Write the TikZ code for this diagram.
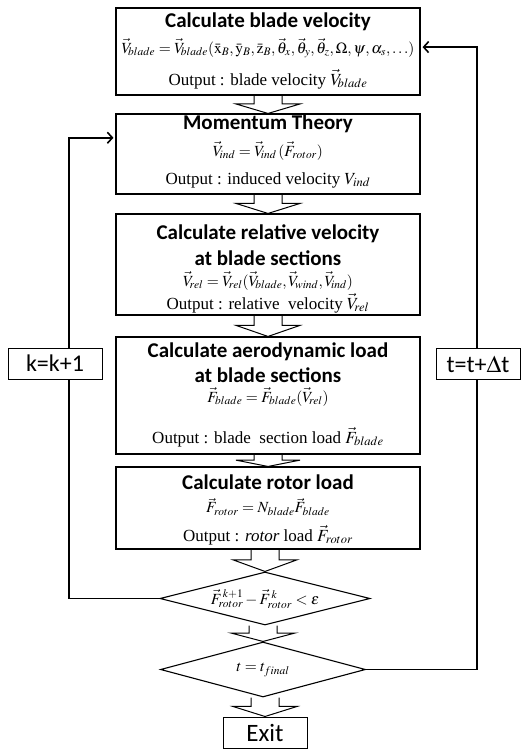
\documentclass[tikz,border=0pt]{standalone}
\usepackage{mathptmx}
\usepackage{fontspec}
\setmainfont{Liberation Serif}
\newfontfamily\ttlfont{Carlito}
\usetikzlibrary{arrows.meta,calc,shapes.geometric}
\tikzset{
  box/.style={draw,line width=1.1pt,minimum width=304pt,inner sep=0pt,fill=white},
  dia/.style={draw,diamond,line width=1.1pt,inner sep=0pt},
  smallbox/.style={draw,line width=1pt,fill=white,inner sep=0pt,font=\ttlfont\fontsize{24}{26}\selectfont},
  ttl/.style={font=\ttlfont\bfseries\fontsize{21}{24}\selectfont,inner sep=0pt},
  eq/.style={font=\fontsize{15.5}{17}\selectfont,inner sep=0pt},
  outp/.style={font=\fontsize{17}{19}\selectfont,inner sep=0pt},
  blockarr/.style={draw,line width=1pt,line join=miter},
  loopline/.style={draw,line width=1.6pt},
  looparr/.style={loopline,-{Straight Barb[length=5pt,width=11pt,line width=1.6pt]},shorten >=2pt}
}
\newcommand\blockarrow[2]{%
  \coordinate (s) at (#1.south -| #2.north);
  \coordinate (m) at ($(s)!.47!(#2.north)$);
  \draw[blockarr] ($(s)+(-14,0)$) -- ($(m)+(-14,0)$) -- ($(m)+(-32,0)$) -- (#2.north)
     -- ($(m)+(32,0)$) -- ($(m)+(14,0)$) -- ($(s)+(14,0)$);}
\begin{document}
\begin{tikzpicture}[x=1pt,y=-1pt]
\useasboundingbox (0,0) rectangle (529,750);
% boxes
\node[box,minimum height=87pt]  (b1) at (268,51.5) {};
\node[box,minimum height=80pt]  (b2) at (268,154) {};
\node[box,minimum height=101pt] (b3) at (268,264.5) {};
\node[box,minimum height=117pt] (b4) at (268,395.5) {};
\node[box,minimum height=82pt]  (b5) at (268,508) {};
\node[dia,minimum width=210pt,minimum height=53pt] (d1) at (265,598.5) {};
\node[dia,minimum width=205pt,minimum height=55pt] (d2) at (263,669.5) {};
\node[smallbox,minimum width=84pt,minimum height=31pt,font=\ttlfont\fontsize{25}{27}\selectfont] (ex) at (265,732.5) {Exit};
% texts box 1
\node[ttl] (t1) at (268,22) {Calculate blade velocity};
\node[eq] (e1) at (268,48) {$\vec{V}_{\!blade}=\vec{V}_{\!blade}(\bar{\mathrm{x}}_{B},\bar{\mathrm{y}}_{B},\bar{\mathrm{z}}_{B},\vec{\theta}_{x},\vec{\theta}_{y},\vec{\theta}_{z},\Omega,\psi,\alpha_{s},\ldots)$};
\node[outp] (o1) at (268,79) {Output : blade velocity $\vec{V}_{\!blade}$};
% box 2
\node[ttl] (t2) at (268,124) {Momentum Theory};
\node[eq] (e2) at (268,151) {$\vec{V}_{\!ind}=\vec{V}_{\!ind}\,(\vec{F}_{rotor})$};
\node[outp] (o2) at (268,180) {Output : induced velocity $V_{ind}$};
% box 3
\node[ttl] (t3a) at (268,234) {Calculate relative velocity};
\node[ttl] (t3b) at (268,258) {at blade sections};
\node[eq] (e3) at (268,281) {$\vec{V}_{\!rel}=\vec{V}_{\!rel}(\vec{V}_{\!blade},\vec{V}_{\!wind},\vec{V}_{\!ind})$};
\node[outp] (o3) at (268,303) {Output : relative\ \ velocity $\vec{V}_{\!rel}$};
% box 4
\node[ttl] (t4a) at (268,352) {Calculate aerodynamic load};
\node[ttl] (t4b) at (268,375) {at blade sections};
\node[eq] (e4) at (268,397) {$\vec{F}_{blade}=\vec{F}_{blade}(\vec{V}_{\!rel})$};
\node[outp] (o4) at (268,437) {Output : blade\ \ section load $\vec{F}_{blade}$};
% box 5
\node[ttl] (t5) at (268,482) {Calculate rotor load};
\node[eq] (e5) at (268,507) {$\vec{F}_{rotor}=N_{blade}\vec{F}_{blade}$};
\node[outp] (o5) at (268,535) {Output : \textit{rotor} load $\vec{F}_{rotor}$};
% diamonds text
\node[eq] (dt1) at (265,599) {$\vec{F}^{\,k+1}_{rotor}-\vec{F}^{\,k}_{rotor}<\varepsilon$};
\node[eq] (dt2) at (263,670) {$t=t_{final}$};
% block arrows
\blockarrow{b1}{b2}
\blockarrow{b2}{b3}
\blockarrow{b3}{b4}
\blockarrow{b4}{b5}
\blockarrow{b5}{d1}
\blockarrow{d1}{d2}
\blockarrow{d2}{ex}
% loops
\coordinate (in2) at ($(b2.north west)!0.3!(b2.south west)$);
\coordinate (in1) at ($(b1.north east)!0.45!(b1.south east)$);
\coordinate (lc) at (69,598.5);
\coordinate (rc) at (477,669.5);
\draw[looparr] (d1.west) -- (lc) |- (in2);
\draw[looparr] (d2.east) -- (rc) |- (in1);
\node[smallbox,minimum width=94pt,minimum height=31pt] (kb) at (55,363.5) {k=k+1};
\node[smallbox,minimum width=84pt,minimum height=31pt] (tb) at (478,364) {t=t+$\Delta$t};
\end{tikzpicture}
\end{document}
